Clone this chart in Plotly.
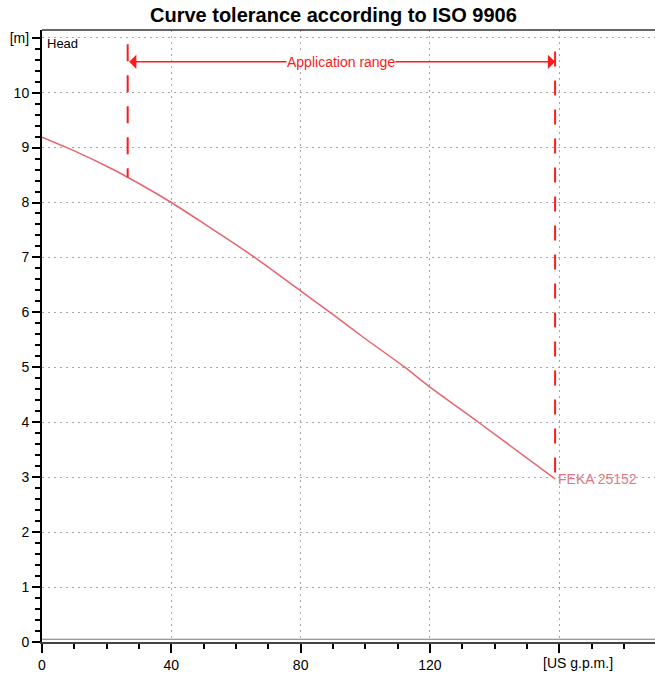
import plotly.graph_objects as go

# ---- data ----
flow = [0, 10, 20, 26.5, 40, 50, 58, 65.8, 80, 89.1, 100, 111.8, 120, 135, 158.7]
head = [9.19, 8.94, 8.66, 8.46, 8.00, 7.62, 7.31, 7.00, 6.39, 6.00, 5.52, 5.02, 4.64, 4.00, 2.97]

app_min = 26.5
app_max = 158.7
app_left_top = 10.88
app_right_top = 10.75
app_arrow_y = 10.56

x_tickvals = [0, 40, 80, 120, 160]
x_ticktext = ["0", "40", "80", "120", ""]
x_unit = "[US g.p.m.]"
y_tickvals = [0, 1, 2, 3, 4, 5, 6, 7, 8, 9, 10, 11]
y_ticktext = ["0", "1", "2", "3", "4", "5", "6", "7", "8", "9", "10", "[m]"]

pump_name = "FEKA 25152"
title = "Curve tolerance according to ISO 9906"

FONT = "Liberation Sans, Arial, sans-serif"
CURVE = "#e8636d"
RED = "#ff1a1a"
GRID = "#a6a6a6"

fig = go.Figure()

fig.add_trace(go.Scatter(x=flow, y=head, mode="lines",
                         line=dict(color=CURVE, width=1.5, shape="spline", smoothing=0.5),
                         hoverinfo="skip", showlegend=False))

# dashed application-range bounds (top -> curve)
fig.add_trace(go.Scatter(x=[app_min, app_min], y=[app_left_top, head[flow.index(app_min)]],
                         mode="lines", line=dict(color=RED, width=2, dash="17px,14px"),
                         showlegend=False, hoverinfo="skip"))
fig.add_trace(go.Scatter(x=[app_max, app_max], y=[app_right_top, head[-1]],
                         mode="lines", line=dict(color=RED, width=2, dash="15px,14px"),
                         showlegend=False, hoverinfo="skip"))

annotations = [
    # double arrow
    dict(x=app_max, y=app_arrow_y, ax=app_min, ay=app_arrow_y, xref="x", yref="y",
         axref="x", ayref="y", text="", showarrow=True, arrowhead=1, arrowside="end+start",
         arrowsize=1.6, arrowwidth=1.5, arrowcolor=RED, standoff=0, startstandoff=0),
    dict(x=(app_min + app_max) / 2, y=app_arrow_y, xref="x", yref="y", text="Application range",
         showarrow=False, font=dict(family=FONT, size=14, color=RED), bgcolor="white",
         borderpad=0, xanchor="center", yanchor="middle"),
    dict(x=flow[-1], y=head[-1], xref="x", yref="y", text=pump_name, showarrow=False,
         font=dict(family=FONT, size=14, color="#e47582"), xanchor="left", yanchor="middle",
         xshift=1),
    dict(x=0, y=1, xref="paper", yref="paper", text="Head", showarrow=False,
         font=dict(family=FONT, size=13, color="black"), xanchor="left", yanchor="top",
         xshift=3, yshift=-4),
    dict(x=160, y=0, xref="x", yref="paper", text=x_unit, showarrow=False,
         font=dict(family=FONT, size=14, color="black"), xanchor="left", yanchor="top",
         xshift=-18, yshift=-11),
    dict(x=0.476, y=1, xref="paper", yref="paper", text="<b>" + title + "</b>", showarrow=False,
         font=dict(family=FONT, size=20, color="black"), xanchor="center", yanchor="bottom",
         yshift=2),
]

shapes = [
    dict(type="line", xref="paper", yref="paper", x0=0, x1=1, y0=1, y1=1,
         line=dict(color="#333333", width=1.5)),
    dict(type="line", xref="paper", yref="paper", x0=0, x1=1, y0=0.0045, y1=0.0045,
         line=dict(color="#777777", width=1)),
]

fig.update_layout(
    width=655, height=674,
    margin=dict(l=42, r=0, t=30, b=32),
    plot_bgcolor="white", paper_bgcolor="white",
    font=dict(family=FONT, size=13, color="black"),
    annotations=annotations, shapes=shapes,
    showlegend=False,
)

fig.update_xaxes(range=[0, 189.6], autorange=False,
                 tickmode="array", tickvals=x_tickvals, ticktext=x_ticktext,
                 ticks="outside", ticklen=9, tickwidth=1.5, tickcolor="black",
                 showline=True, linecolor="#444444", linewidth=2,
                 showgrid=True, gridcolor=GRID, griddash="2px,4px", gridwidth=1,
                 zeroline=False, automargin=False,
                 minor=dict(dtick=10, tick0=0, ticks="outside", ticklen=5, tickwidth=1.5,
                            tickcolor="black", showgrid=False),
                 tickfont=dict(family=FONT, size=14))
fig.update_yaxes(range=[0, 11.14], autorange=False,
                 tickmode="array", tickvals=y_tickvals, ticktext=y_ticktext,
                 ticks="outside", ticklen=8, tickwidth=1.5, tickcolor="black",
                 showline=True, linecolor="black", linewidth=2,
                 showgrid=True, gridcolor=GRID, griddash="2px,4px", gridwidth=1,
                 zeroline=False, automargin=False,
                 minor=dict(dtick=0.2, tick0=0, ticks="outside", ticklen=5, tickwidth=1.5,
                            tickcolor="black", showgrid=False),
                 tickfont=dict(family=FONT, size=14))

fig.write_html("out.html", config={"displayModeBar": False},
               post_script="document.body.style.margin='0';document.body.style.overflow='hidden';")
